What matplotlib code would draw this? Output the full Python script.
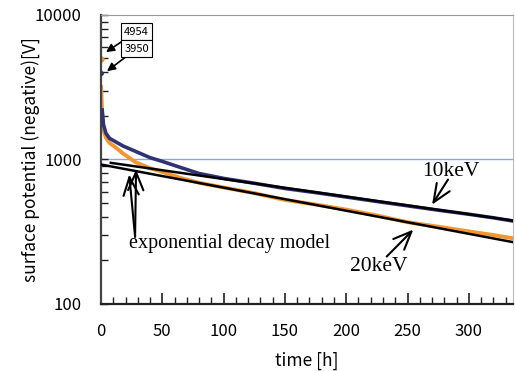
import matplotlib
matplotlib.use('Agg')
import matplotlib.pyplot as plt
from matplotlib.ticker import FixedLocator, NullFormatter

# 測定データ (読み取り値)
t_10kev = [0, 1, 2, 4, 7, 11, 18, 28, 40, 50, 65, 80, 100, 125, 150, 175,
           200, 225, 250, 275, 300, 320, 336]
v_10kev = [3950, 2200, 1750, 1520, 1400, 1340, 1240, 1140, 1030, 970, 880,
           800, 740, 685, 630, 590, 550, 512, 478, 446, 418, 395, 375]

t_20kev = [0, 0.1, 1, 2, 4, 7, 11, 18, 28, 40, 50, 65, 80, 100, 125, 150,
           175, 200, 225, 250, 275, 300, 320, 336]
v_20kev = [4954, 3180, 2000, 1600, 1420, 1300, 1230, 1100, 960, 870, 820,
           745, 690, 640, 585, 525, 488, 450, 410, 368, 343, 318, 300, 285]

# 指数減衰モデル (片対数で直線)
fit10_t = [8, 336]
fit10_v = [948, 378]
fit20_t = [0, 336]
fit20_v = [923, 268]

ref_level = 1000
start_labels = ['4954', '3950']

sans = ['Noto Sans CJK JP', 'DejaVu Sans']
serif = ['Liberation Serif', 'DejaVu Serif']

fig = plt.figure(figsize=(5.15, 3.71), dpi=100)
ax = fig.add_axes([0.1961, 0.1806, 0.80, 0.779])

navy = '#2f3273'
orange = '#f39632'

ax.axhline(ref_level, color='#8aa6d8', lw=1.0, zorder=1)

ax.plot(t_10kev[1:], v_10kev[1:], color=navy, lw=2.6, zorder=3)
ax.plot(t_10kev[:1], v_10kev[:1], 'o', color=navy, ms=2.5, zorder=3)
ax.plot(t_20kev[1:], v_20kev[1:], color=orange, lw=2.8, zorder=2)
ax.plot(t_20kev[:1], v_20kev[:1], 'o', color=orange, ms=3.5, zorder=2)

ax.plot(fit10_t, fit10_v, color='black', lw=1.8, zorder=4)
ax.plot(fit20_t, fit20_v, color='black', lw=1.8, zorder=4)

ax.set_yscale('log')
ax.set_ylim(100, 10000)
ax.set_xlim(0, 336)

ax.xaxis.set_major_locator(FixedLocator(range(0, 301, 50)))
ax.xaxis.set_minor_locator(FixedLocator(range(0, 337, 10)))
ax.yaxis.set_major_locator(FixedLocator([100, 1000, 10000]))
ax.yaxis.set_minor_locator(FixedLocator([k * 10 ** e for e in (2, 3) for k in range(2, 10)]))
ax.yaxis.set_minor_formatter(NullFormatter())
ax.set_yticklabels(['100', '1000', '10000'], family=sans, fontsize=12)
ax.set_xticklabels([str(v) for v in range(0, 301, 50)], family=sans, fontsize=12)

ax.tick_params(axis='both', which='both', direction='in', color='#222222')
ax.tick_params(axis='x', which='major', length=8, width=1.2, pad=14)
ax.tick_params(axis='x', which='minor', length=5, width=1.0)
ax.tick_params(axis='y', which='major', length=5, width=1.0, pad=14)
ax.tick_params(axis='y', which='minor', length=5, width=1.0)
ax.tick_params(top=False, right=False, which='both')

ax.spines['left'].set_color('#444444')
ax.spines['left'].set_linewidth(1.6)
ax.spines['bottom'].set_color('#222222')
ax.spines['bottom'].set_linewidth(1.6)
ax.spines['top'].set_color('#999999')
ax.spines['right'].set_color('#bbbbbb')

ax.set_xlabel('time [h]', family=sans, fontsize=12.5, labelpad=8)
ax.set_ylabel('surface potential (negative)[V]', family=sans, fontsize=12.5, labelpad=-4)

# 初期値の注記
box = dict(boxstyle='square,pad=0.3', fc='white', ec='black', lw=0.8)
arrow_fill = dict(arrowstyle='-|>,head_length=0.6,head_width=0.3', color='black',
                  lw=1.2, shrinkA=0, shrinkB=0)
ax.annotate(start_labels[0], xy=(4.1, 5535), xytext=(19, 7680), family=sans,
            fontsize=8, bbox=box, va='center', arrowprops=arrow_fill, zorder=6)
ax.annotate(start_labels[1], xy=(4.9, 4085), xytext=(19, 5850), family=sans,
            fontsize=8, bbox=box, va='center', arrowprops=arrow_fill, zorder=6)

# モデル・系列ラベル
open_arrow = dict(arrowstyle='->,head_length=1.3,head_width=0.55', color='black',
                  lw=1.5, mutation_scale=10, shrinkA=0, shrinkB=0)
ax.annotate('', xy=(23, 787), xytext=(27.8, 292), arrowprops=open_arrow, zorder=5)
ax.annotate('', xy=(28.6, 853), xytext=(27.8, 292), arrowprops=open_arrow, zorder=5)
ax.text(23, 261, 'exponential decay model', family=serif, fontsize=14.5,
        ha='left', va='center')

ax.text(262, 830, '10keV', family=serif, fontsize=15.5, ha='left', va='center')
ax.annotate('', xy=(270, 487), xytext=(283, 726), arrowprops=open_arrow, zorder=5)

ax.text(203, 181, '20keV', family=serif, fontsize=15.5, ha='left', va='center')
ax.annotate('', xy=(254.7, 327), xytext=(233, 213), arrowprops=open_arrow, zorder=5)

plt.savefig('out.png', dpi=100)
